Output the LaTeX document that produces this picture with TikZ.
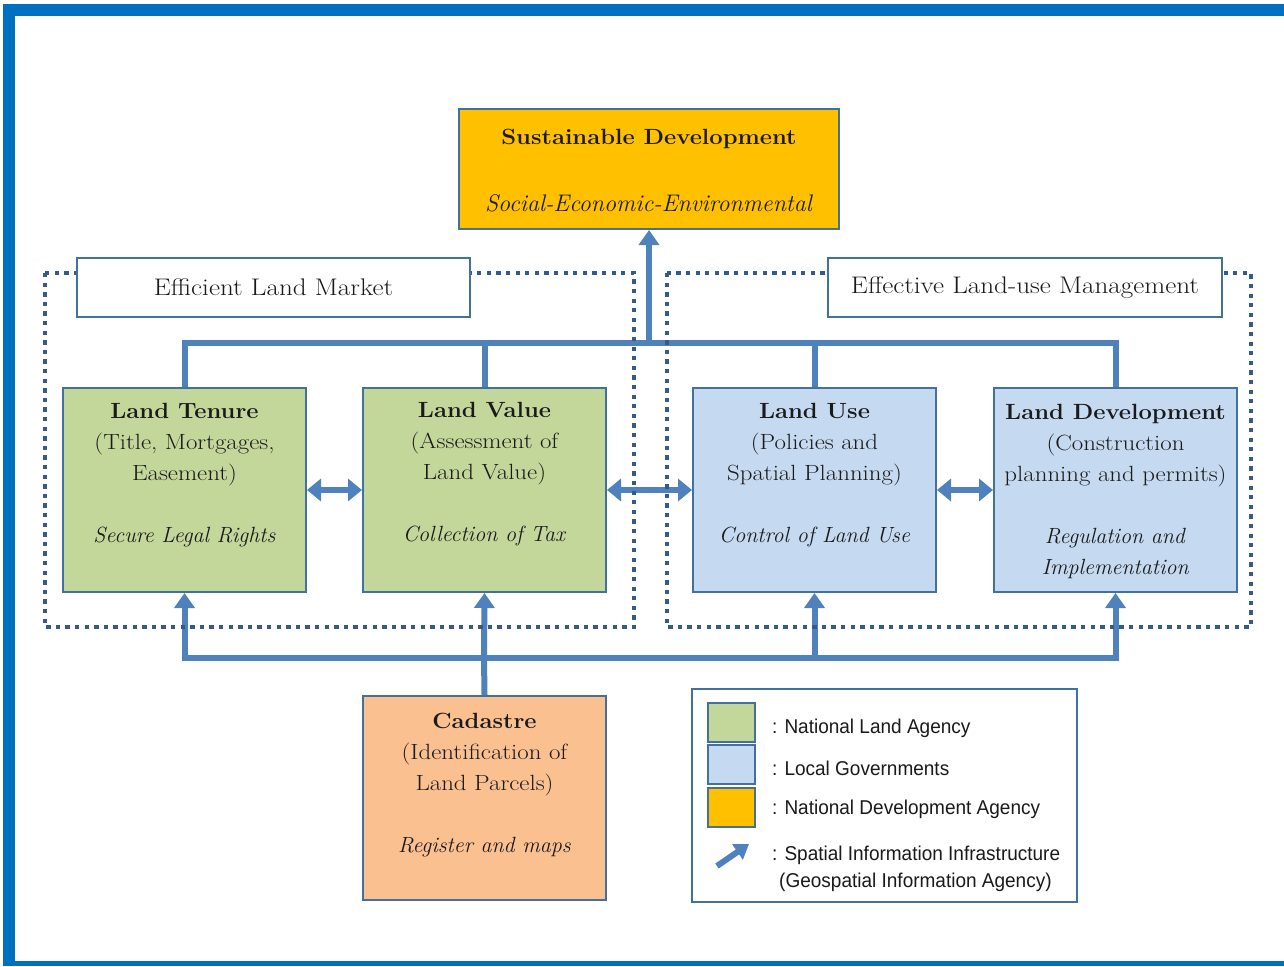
\documentclass[tikz,border=0pt]{standalone}
\usepackage{fontspec}
\setmainfont{lmroman17-regular.otf}[
  BoldFont=lmroman12-bold.otf,
  ItalicFont=lmroman12-italic.otf,
  BoldItalicFont=lmroman10-bolditalic.otf,
  UprightFeatures={FakeStretch=1.13},
  BoldFeatures={FakeStretch=1.08}]
\newfontfamily\legendfont[FakeStretch=0.95]{Liberation Sans}
\usetikzlibrary{arrows.meta}

\definecolor{framebl}{HTML}{0070C0}
\definecolor{linkbl}{HTML}{4F81BD}
\definecolor{edgebl}{HTML}{41719C}
\definecolor{dotbl}{HTML}{345A8C}
\definecolor{nlagreen}{HTML}{C4D79B}
\definecolor{lgblue}{HTML}{C5D9F1}
\definecolor{ndagold}{HTML}{FFC000}
\definecolor{cadorange}{HTML}{FAC090}
\definecolor{ink}{HTML}{1A1A1A}

\tikzset{
  box/.style={draw=edgebl, line width=2pt, minimum width=243pt,
    minimum height=204pt, inner sep=0pt, anchor=north west},
  boxtext/.style={anchor=north, align=center, inner sep=0pt, text=ink,
    font=\fontsize{22}{31}\selectfont},
  labelbox/.style={draw=edgebl, line width=2pt, fill=white, minimum width=393pt,
    minimum height=59pt, inner sep=0pt, anchor=north west, text=ink,
    font=\fontsize{24}{28}\selectfont},
  swatch/.style={draw=edgebl, line width=2pt, minimum width=47pt,
    minimum height=39pt, inner sep=0pt, anchor=north west},
  legtext/.style={anchor=west, inner sep=0pt, align=left, text=ink,
    font=\legendfont\fontsize{20}{27}\selectfont},
  link/.style={draw=linkbl, line width=6pt},
  tip/.tip={Triangle[width=20pt,length=15pt]},
  dottedframe/.style={draw=dotbl, line width=4pt, dash pattern=on 4.3pt off 5.3pt},
}

\begin{document}
\begin{tikzpicture}[x=1pt,y=-1pt]
\useasboundingbox (0,0) rectangle (1284,966);

% blue page frame
\fill[framebl] (3,4) rectangle (1284,16);
\fill[framebl] (3,4) rectangle (15,966);
\fill[framebl] (3,961) rectangle (1284,966);

% goal box
\node[draw=edgebl, line width=2pt, fill=ndagold, minimum width=380pt,
  minimum height=120pt, inner sep=0pt, anchor=north west] (sustain) at (458,108) {};
\node[anchor=north, align=center, inner sep=0pt, text=ink] (sustain-t)
  at ([yshift=-21pt]sustain.north)
  {\fontsize{22}{31}\selectfont\textbf{Sustainable Development}\\[45pt]
   \fontsize{24}{31}\selectfont\textit{Social-Economic-Environmental}};

% land administration functions
\node[box, fill=nlagreen] (tenure) at (62,387) {};
\node[box, fill=nlagreen] (value) at (362,387) {};
\node[box, fill=lgblue] (use) at (692,387) {};
\node[box, fill=lgblue] (develop) at (993,387) {};
\node[box, fill=cadorange] (cadastre) at (362,695) {};

\node[boxtext] (tenure-t) at ([yshift=-16pt]tenure.north)
  {\textbf{Land Tenure}\\(Title, Mortgages,\\Easement)\\[31pt]\textit{Secure Legal Rights}};
\node[boxtext] (value-t) at ([yshift=-15pt]value.north)
  {\textbf{Land Value}\\(Assessment of\\Land Value)\\[31pt]\textit{Collection of Tax}};
\node[boxtext] (use-t) at ([yshift=-16pt]use.north)
  {\textbf{Land Use}\\(Policies and\\Spatial Planning)\\[31pt]\textit{Control of Land Use}};
\node[boxtext] (develop-t) at ([yshift=-17pt]develop.north)
  {\textbf{Land Development}\\(Construction\\planning and permits)\\[31pt]\textit{Regulation and}\\\textit{Implementation}};
\node[boxtext] (cadastre-t) at ([yshift=-18pt]cadastre.north)
  {\textbf{Cadastre}\\(Identification of\\Land Parcels)\\[31pt]\textit{Register and maps}};

% connectors
\coordinate (topbus) at (649,343);
\coordinate (botbus) at (484,658);

\draw[link] (tenure.north) |- (topbus) -| (develop.north);
\draw[link] (value.north) -- (value.north |- topbus);
\draw[link] (use.north) -- (use.north |- topbus);
\draw[link, -{tip}] (topbus) -- (sustain.south);

\draw[link] (cadastre.north) -- (botbus);
\draw[link, -{tip}] (botbus) -- (value.south);
\draw[link, -{tip}] (botbus) -| (tenure.south);
\draw[link, -{tip}] (botbus) -| (use.south);
\draw[link, -{tip}] (botbus) -| (develop.south);

\draw[link, {Triangle[width=22pt,length=14pt]}-{Triangle[width=22pt,length=14pt]}]
  (tenure.east) -- (value.west);
\draw[link, {Triangle[width=22pt,length=14pt]}-{Triangle[width=22pt,length=14pt]}]
  (value.east) -- (use.west);
\draw[link, {Triangle[width=22pt,length=14pt]}-{Triangle[width=22pt,length=14pt]}]
  (use.east) -- (develop.west);

% policy groupings
\draw[dottedframe] (45,273) rectangle (634,627);
\draw[dottedframe] (667,273) rectangle (1251,627);
\node[labelbox] (market) at (76,257) {Efficient Land Market};
\node[labelbox, minimum width=394pt] (mgmt) at (827,257) {Effective Land-use Management};

% legend
\node[draw=edgebl, line width=2pt, fill=white, minimum width=385pt,
  minimum height=213pt, inner sep=0pt, anchor=north west] (legend) at (691,688) {};
\node[swatch, fill=nlagreen] (sw-green) at (707,702) {};
\node[swatch, fill=lgblue] (sw-blue) at (707,744) {};
\node[swatch, fill=ndagold] (sw-gold) at (707,787) {};
\node[legtext] (lg-green) at (772,728) {: National Land Agency};
\node[legtext] (lg-blue) at (772,768) {: Local Governments};
\node[legtext] (lg-gold) at (772,809) {: National Development Agency};
\node[legtext] (lg-sii) at (772,869)
  {: Spatial Information Infrastructure\\\hspace*{7pt}(Geospatial Information Agency)};
\coordinate (legarrow-s) at (717,866);
\coordinate (legarrow-e) at (749,844);
\draw[link, -{Triangle[width=18pt,length=14pt]}] (legarrow-s) -- (legarrow-e);

\end{tikzpicture}
\end{document}
